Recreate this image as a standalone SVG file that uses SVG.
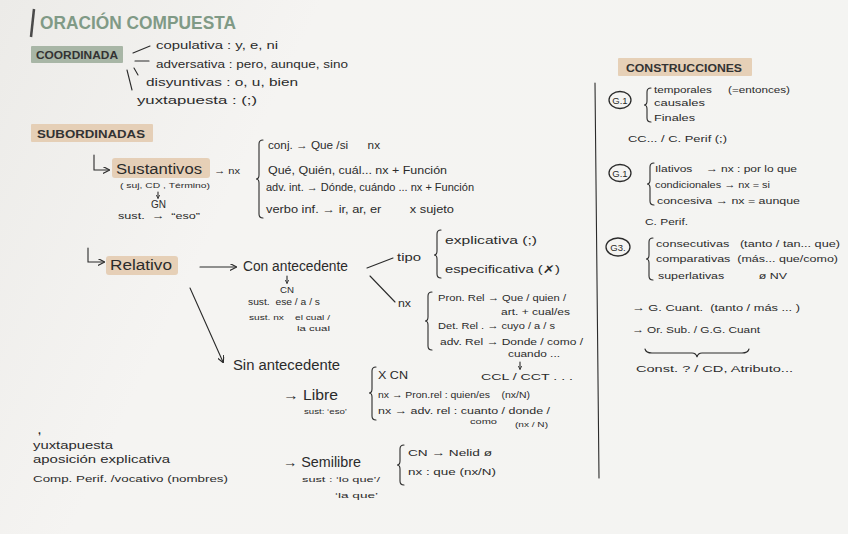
<svg xmlns="http://www.w3.org/2000/svg" width="848" height="534" viewBox="0 0 848 534">
<defs>
<linearGradient id="paper" x1="0" y1="0" x2="1" y2="0.3">
<stop offset="0" stop-color="#ecebe8"/>
<stop offset="0.35" stop-color="#f5f4f2"/>
<stop offset="1" stop-color="#f4f4f2"/>
</linearGradient>
<marker id="ah" viewBox="0 0 8 8" refX="7" refY="4" markerWidth="7" markerHeight="7" orient="auto" markerUnits="userSpaceOnUse">
<path d="M0,0 L8,4 L0,8" fill="none" stroke="#2b2b2b" stroke-width="1.3"/>
</marker>
<marker id="ahs" viewBox="0 0 8 8" refX="7" refY="4" markerWidth="4" markerHeight="4" orient="auto" markerUnits="userSpaceOnUse">
<path d="M0,0 L8,4 L0,8" fill="none" stroke="#2b2b2b" stroke-width="1.6"/>
</marker>
<style>
text{font-family:"Liberation Sans","DejaVu Sans",sans-serif;fill:#2b2b2b;white-space:pre}
.xs{font-size:8px}
.s{font-size:9.5px}
.m{font-size:10.5px}
.l{font-size:14px}
.hd{font-size:11px;font-weight:bold;fill:#333}
.ln{fill:none;stroke:#2b2b2b;stroke-width:1.1;stroke-linecap:round}
.br{fill:none;stroke:#2b2b2b;stroke-width:1.1;stroke-linecap:round}
.tan{fill:#e3c9ad;opacity:0.85}
.grn{fill:#a8b6a6}
</style>
</defs>
<rect width="848" height="534" fill="url(#paper)"/>

<g id="title">
<line x1="34" y1="9" x2="31" y2="37" stroke="#4a4a4a" stroke-width="2.5"/>
<text x="40" y="29" font-size="18" font-weight="bold" style="fill:#809a86" textLength="196" lengthAdjust="spacingAndGlyphs">ORACIÓN COMPUESTA</text>
</g>

<g id="coordinada">
<rect class="grn" x="31" y="46" width="92" height="17" rx="1"/>
<text class="hd" x="36" y="59" textLength="82" lengthAdjust="spacingAndGlyphs">COORDINADA</text>
<text class="m" x="156" y="49" textLength="122" lengthAdjust="spacingAndGlyphs">copulativa : y, e, ni</text>
<text class="m" x="156" y="68" textLength="192" lengthAdjust="spacingAndGlyphs">adversativa : pero, aunque, sino</text>
<text class="m" x="146" y="86" textLength="152" lengthAdjust="spacingAndGlyphs">disyuntivas : o, u, bien</text>
<text class="m" x="137" y="104" textLength="120" lengthAdjust="spacingAndGlyphs">yuxtapuesta : (;)</text>
</g>

<g id="subordinadas">
<rect class="tan" x="31" y="124" width="122" height="18" rx="1"/>
<text class="hd" x="37" y="138" textLength="108" lengthAdjust="spacingAndGlyphs">SUBORDINADAS</text>
</g>

<g id="sustantivos">
<rect class="tan" x="112" y="158" width="98" height="20" rx="3"/>
<text class="l" x="116" y="174" textLength="86" lengthAdjust="spacingAndGlyphs">Sustantivos</text>
<text class="s" x="214" y="174" textLength="26" lengthAdjust="spacingAndGlyphs">→ nx</text>
<text class="xs" x="120" y="188" textLength="90" lengthAdjust="spacingAndGlyphs">( suj, CD , Término)</text>
<text class="m" x="151" y="208" textLength="15" lengthAdjust="spacingAndGlyphs">GN</text>
<text class="s" x="118" y="219" textLength="82" lengthAdjust="spacingAndGlyphs">sust.  →  “eso”</text>
<text class="m" x="268" y="149" textLength="112" lengthAdjust="spacingAndGlyphs">conj. → Que /si      nx</text>
<text class="m" x="268" y="174" textLength="179" lengthAdjust="spacingAndGlyphs">Qué, Quién, cuál... nx + Función</text>
<text class="m" x="266" y="191" textLength="208" lengthAdjust="spacingAndGlyphs">adv. int. → Dónde, cuándo ... nx + Función</text>
<text class="m" x="266" y="213" textLength="188" lengthAdjust="spacingAndGlyphs">verbo inf. → ir, ar, er        x sujeto</text>
</g>

<g id="relativo">
<rect class="tan" x="106" y="256" width="72" height="19" rx="3"/>
<text class="l" x="110" y="270" textLength="62" lengthAdjust="spacingAndGlyphs">Relativo</text>
</g>

<g id="con-antecedente">
<text class="l" x="243" y="271" textLength="105" lengthAdjust="spacingAndGlyphs">Con antecedente</text>
<text class="s" x="280" y="293" textLength="14" lengthAdjust="spacingAndGlyphs">CN</text>
<text class="s" x="248" y="305" textLength="72" lengthAdjust="spacingAndGlyphs">sust.  ese / a / s</text>
<text class="xs" x="249" y="320" textLength="81" lengthAdjust="spacingAndGlyphs">sust. nx    el cual /</text>
<text class="xs" x="297" y="331" textLength="33" lengthAdjust="spacingAndGlyphs">la cual</text>
<text class="m" x="397" y="261" textLength="24" lengthAdjust="spacingAndGlyphs">tipo</text>
<text class="m" x="445" y="244" textLength="92" lengthAdjust="spacingAndGlyphs">explicativa (;)</text>
<text class="m" x="445" y="273" textLength="115" lengthAdjust="spacingAndGlyphs">especificativa (✗)</text>
<text class="m" x="398" y="307" textLength="13" lengthAdjust="spacingAndGlyphs">nx</text>
<text class="s" x="438" y="301" textLength="128" lengthAdjust="spacingAndGlyphs">Pron. Rel → Que / quien /</text>
<text class="s" x="501" y="315" textLength="69" lengthAdjust="spacingAndGlyphs">art. + cual/es</text>
<text class="s" x="438" y="329" textLength="117" lengthAdjust="spacingAndGlyphs">Det. Rel . → cuyo / a / s</text>
<text class="s" x="440" y="345" textLength="143" lengthAdjust="spacingAndGlyphs">adv. Rel → Donde / como /</text>
<text class="s" x="508" y="357" textLength="52" lengthAdjust="spacingAndGlyphs">cuando ...</text>
<text class="s" x="481" y="380" textLength="92" lengthAdjust="spacingAndGlyphs">CCL / CCT . . .</text>
</g>

<g id="sin-antecedente">
<text class="l" x="233" y="370" textLength="107" lengthAdjust="spacingAndGlyphs">Sin antecedente</text>
<text class="l" x="283" y="400" textLength="55" lengthAdjust="spacingAndGlyphs">→ Libre</text>
<text class="xs" x="304" y="414" textLength="43" lengthAdjust="spacingAndGlyphs">sust: ‘eso’</text>
<text class="m" x="378" y="379" textLength="30" lengthAdjust="spacingAndGlyphs">X CN</text>
<text class="s" x="378" y="398" textLength="152" lengthAdjust="spacingAndGlyphs">nx → Pron.rel : quien/es    (nx/N)</text>
<text class="s" x="378" y="414" textLength="172" lengthAdjust="spacingAndGlyphs">nx → adv. rel : cuanto / donde /</text>
<text class="xs" x="470" y="424" textLength="27" lengthAdjust="spacingAndGlyphs">como</text>
<text class="xs" x="515" y="427" textLength="33" lengthAdjust="spacingAndGlyphs">(nx / N)</text>
<text class="l" x="283" y="467" textLength="78" lengthAdjust="spacingAndGlyphs">→ Semilibre</text>
<text class="xs" x="302" y="482" textLength="78" lengthAdjust="spacingAndGlyphs">sust : ‘lo que’/</text>
<text class="xs" x="335" y="498" textLength="43" lengthAdjust="spacingAndGlyphs">‘la que’</text>
<text class="s" x="408" y="456" textLength="84" lengthAdjust="spacingAndGlyphs">CN → Nelid ø</text>
<text class="s" x="408" y="475" textLength="88" lengthAdjust="spacingAndGlyphs">nx : que (nx/N)</text>
</g>

<g id="explicativa-funciones">
<text class="m" x="38" y="434" font-weight="bold">,</text>
<text class="m" x="33" y="449" textLength="80" lengthAdjust="spacingAndGlyphs">yuxtapuesta</text>
<text class="m" x="33" y="463" textLength="137" lengthAdjust="spacingAndGlyphs">aposición explicativa</text>
<text class="s" x="33" y="482" textLength="195" lengthAdjust="spacingAndGlyphs">Comp. Perif. /vocativo (nombres)</text>
</g>

<g id="construcciones">
<rect class="tan" x="618" y="58" width="134" height="18" rx="1"/>
<text class="hd" x="626" y="72" textLength="116" lengthAdjust="spacingAndGlyphs">CONSTRUCCIONES</text>
</g>

<g id="g1a">
<ellipse cx="620" cy="100" rx="11" ry="8.5" fill="none" stroke="#2b2b2b" stroke-width="1.3"/>
<text class="s" x="620" y="104" text-anchor="middle">G.1</text>
<text class="s" x="654" y="93" textLength="136" lengthAdjust="spacingAndGlyphs">temporales     (=entonces)</text>
<text class="s" x="654" y="106" textLength="51" lengthAdjust="spacingAndGlyphs">causales</text>
<text class="s" x="654" y="121" textLength="41" lengthAdjust="spacingAndGlyphs">Finales</text>
<text class="s" x="628" y="142" textLength="99" lengthAdjust="spacingAndGlyphs">CC... / C. Perif (;)</text>
</g>

<g id="g1b">
<ellipse cx="620" cy="173" rx="11" ry="8.5" fill="none" stroke="#2b2b2b" stroke-width="1.3"/>
<text class="s" x="620" y="177" text-anchor="middle">G.1</text>
<text class="s" x="655" y="172" textLength="142" lengthAdjust="spacingAndGlyphs">Ilativos    → nx : por lo que</text>
<text class="s" x="655" y="188" textLength="115" lengthAdjust="spacingAndGlyphs">condicionales → nx = si</text>
<text class="s" x="657" y="204" textLength="143" lengthAdjust="spacingAndGlyphs">concesiva → nx = aunque</text>
<text class="s" x="645" y="225" textLength="43" lengthAdjust="spacingAndGlyphs">C. Perif.</text>
</g>

<g id="g3">
<ellipse cx="618" cy="247" rx="12" ry="9" fill="none" stroke="#2b2b2b" stroke-width="1.3"/>
<text class="s" x="618" y="251" text-anchor="middle">G3.</text>
<text class="s" x="656" y="247" textLength="184" lengthAdjust="spacingAndGlyphs">consecutivas   (tanto / tan... que)</text>
<text class="s" x="656" y="262" textLength="182" lengthAdjust="spacingAndGlyphs">comparativas  (más... que/como)</text>
<text class="s" x="658" y="279" textLength="129" lengthAdjust="spacingAndGlyphs">superlativas          ø NV</text>
<text class="s" x="632" y="311" textLength="168" lengthAdjust="spacingAndGlyphs">→ G. Cuant.  (tanto / más ... )</text>
<text class="s" x="632" y="333" textLength="128" lengthAdjust="spacingAndGlyphs">→ Or. Sub. / G.G. Cuant</text>
<text class="s" x="636" y="372" textLength="157" lengthAdjust="spacingAndGlyphs">Const. ? / CD, Atributo...</text>
</g>

<g id="connectors">
<line class="ln" x1="595" y1="83" x2="599" y2="478" stroke-width="1.6"/>
<path class="ln" d="M133 53 L150 46"/>
<path class="ln" d="M135 61 L149 61"/>
<path class="ln" d="M134 68 L138 75"/>
<path class="ln" d="M127 70 L132 90"/>
<path class="ln" d="M94 155 V170 H109" marker-end="url(#ah)"/>
<path class="ln" d="M88 248 V262 H104" marker-end="url(#ah)"/>
<path class="ln" d="M200 267 H236" marker-end="url(#ah)"/>
<path class="ln" d="M190 288 L223 362" marker-end="url(#ah)"/>
<path class="ln" d="M367 268 L393 258"/>
<path class="ln" d="M370 276 L395 302"/>
<path class="ln" d="M158 192 V198" stroke-width="0.9" marker-end="url(#ahs)"/>
<path class="ln" d="M287 276 V283" stroke-width="0.9" marker-end="url(#ahs)"/>
<path class="ln" d="M520 362 V369" stroke-width="0.9" marker-end="url(#ahs)"/>
<path class="br" d="M263 140 Q259 140 259 144 V175 Q259 179 256 179 Q259 179 259 183 V214 Q259 218 263 218"/>
<path class="br" d="M441 230 Q437 230 437 234 V251 Q437 255 434 255 Q437 255 437 259 V274 Q437 278 441 278"/>
<path class="br" d="M432 292 Q428 292 428 296 V317 Q428 321 425 321 Q428 321 428 325 V346 Q428 350 432 350"/>
<path class="br" d="M376 367 Q372 367 372 371 V389 Q372 393 369 393 Q372 393 372 397 V416 Q372 420 376 420"/>
<path class="br" d="M404 445 Q400 445 400 449 V461 Q400 465 397 465 Q400 465 400 469 V481 Q400 485 404 485"/>
<path class="br" d="M651 88 Q647 88 647 92 V101 Q647 105 644 105 Q647 105 647 109 V118 Q647 122 651 122"/>
<path class="br" d="M654 163 Q650 163 650 167 V180 Q650 184 647 184 Q650 184 650 188 V201 Q650 205 654 205"/>
<path class="br" d="M653 238 Q649 238 649 242 V255 Q649 259 646 259 Q649 259 649 263 V276 Q649 280 653 280"/>
<path class="br" d="M645 349 Q646 353 652 353 H692 Q696 353 697 357 Q698 353 702 353 H742 Q748 353 749 349"/>
</g>
</svg>
